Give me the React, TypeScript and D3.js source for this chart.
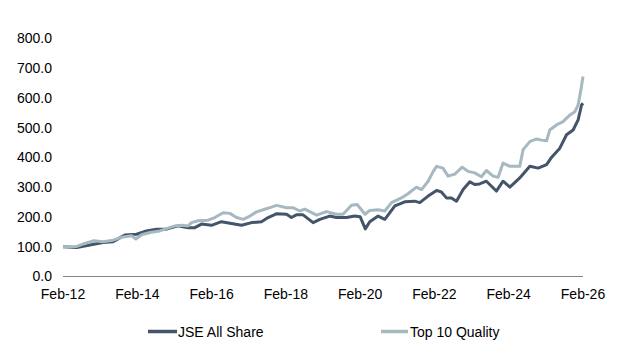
import React from "react";
import * as d3 from "d3";

const jseDates = [
  "2012-02-01","2012-06-15","2012-10-22","2013-03-01","2013-06-08","2013-10-01","2014-01-25","2014-05-01","2014-08-08","2014-11-15",
  "2015-03-08","2015-06-15","2015-08-20","2015-10-25","2016-02-01","2016-05-08","2016-08-15","2016-11-22","2017-03-01","2017-06-06",
  "2017-08-10","2017-09-28","2017-11-01","2018-02-08","2018-03-27","2018-05-15","2018-07-20","2018-10-27","2019-01-01","2019-04-08",
  "2019-06-13","2019-09-20","2019-12-10","2020-02-01","2020-03-23","2020-05-06","2020-07-27","2020-10-01","2021-01-08","2021-04-15",
  "2021-07-22","2021-09-10","2021-12-01","2022-02-22","2022-04-10","2022-05-30","2022-07-18","2022-09-06","2022-11-10","2023-01-15",
  "2023-03-04","2023-04-21","2023-06-27","2023-10-03","2023-12-08","2024-02-13","2024-05-20","2024-08-27","2024-11-17","2025-02-08",
  "2025-03-28","2025-06-18","2025-08-23","2025-10-27","2025-12-15","2026-01-18","2026-02-01"
];
const jseValues = [
  100, 97, 106, 114, 117, 139, 142, 153, 159, 159,
  170, 164, 164, 176, 172, 184, 178, 172, 181, 184,
  198, 205, 211, 209, 198, 207, 207, 181, 192, 203,
  198, 198, 203, 201, 160, 184, 203, 192, 237, 251,
  253, 248, 270, 289, 284, 264, 264, 253, 292, 318,
  309, 311, 320, 287, 320, 300, 331, 370, 364, 376,
  400, 431, 476, 492, 526, 576, 582
];

const qualityDates = [
  "2012-02-01","2012-06-15","2012-08-15","2012-12-01","2013-03-01","2013-06-08","2013-09-15","2013-12-07","2014-01-18","2014-03-15",
  "2014-06-05","2014-09-10","2014-11-15","2015-02-06","2015-04-12","2015-06-15","2015-07-18","2015-09-22","2015-12-29","2016-03-04",
  "2016-05-25","2016-07-30","2016-10-04","2016-12-08","2017-02-13","2017-04-18","2017-07-08","2017-09-13","2017-11-01","2018-02-08",
  "2018-04-12","2018-06-17","2018-08-06","2018-12-01","2019-03-07","2019-06-13","2019-08-17","2019-11-08","2020-01-03","2020-03-20",
  "2020-05-06","2020-07-27","2020-10-01","2020-12-06","2021-03-13","2021-05-17","2021-08-08","2021-09-27","2021-12-01","2022-01-20",
  "2022-02-22","2022-04-26","2022-06-15","2022-08-20","2022-11-01","2022-12-29","2023-03-04","2023-05-09","2023-06-27","2023-09-01",
  "2023-10-20","2023-12-08","2024-02-13","2024-05-20","2024-06-22","2024-08-27","2024-11-01","2024-12-20","2025-02-08","2025-03-11",
  "2025-05-16","2025-07-20","2025-09-24","2025-11-13","2025-12-15","2026-01-08","2026-02-01"
];
const qualityValues = [
  100, 101, 109, 120, 117, 122, 133, 137, 126, 140,
  148, 153, 161, 170, 172, 170, 181, 187, 189, 198,
  214, 212, 198, 192, 203, 217, 226, 233, 239, 231,
  231, 220, 226, 206, 218, 209, 209, 239, 242, 209,
  222, 224, 220, 248, 264, 278, 300, 292, 320, 353,
  370, 364, 337, 344, 367, 353, 348, 335, 356, 337,
  333, 381, 370, 370, 426, 453, 462, 458, 456, 492,
  509, 520, 542, 553, 576, 620, 672
];

const yTicks = [0, 100, 200, 300, 400, 500, 600, 700, 800];
const xTickDates = ["2012-02-01","2014-02-01","2016-02-01","2018-02-01","2020-02-01","2022-02-01","2024-02-01","2026-02-01"];
const seriesNames = ["JSE All Share", "Top 10 Quality"];

const W = 619, H = 349;
const DARK = "#44546A";
const LIGHT = "#A6B9C1";
const FONT = "Liberation Sans, Arial, sans-serif";

export default function App() {
  const parse = d3.timeParse("%Y-%m-%d");
  const x = d3.scaleTime()
    .domain([parse("2012-02-01")!, parse("2026-02-01")!])
    .range([63, 583]);
  const y = d3.scaleLinear().domain([0, 800]).range([276.5, 38.3]);
  const fmt = d3.timeFormat("%b-%y");
  const line = d3.line<[Date, number]>().x(d => x(d[0])).y(d => y(d[1])).curve(d3.curveLinear);

  const jse = jseDates.map((d, i) => [parse(d)!, jseValues[i]] as [Date, number]);
  const qual = qualityDates.map((d, i) => [parse(d)!, qualityValues[i]] as [Date, number]);

  return (
    <svg width={W} height={H} style={{ position: "absolute", left: 0, top: 0, background: "#fff" }}
      fontFamily={FONT}>
      <rect x={0} y={0} width={W} height={H} fill="#fff" />
      {yTicks.map(t => (
        <text key={t} x={52} y={y(t)} dy="0.35em" textAnchor="end" fontSize={14} fill="#000">
          {t.toFixed(1)}
        </text>
      ))}
      <line x1={63} x2={583} y1={276.5} y2={276.5} stroke="#868686" strokeWidth={1} />
      {xTickDates.map(d => (
        <text key={d} x={x(parse(d)!)} y={299} textAnchor="middle" fontSize={14} fill="#000">
          {fmt(parse(d)!)}
        </text>
      ))}
      <path d={line(jse) || ""} fill="none" stroke={DARK} strokeWidth={3} strokeLinejoin="round" />
      <path d={line(qual) || ""} fill="none" stroke={LIGHT} strokeWidth={3} strokeLinejoin="round" />
      <line x1={148} x2={177} y1={331.5} y2={331.5} stroke={DARK} strokeWidth={3.5} />
      <text x={178} y={336.5} fontSize={14} fill="#000">{seriesNames[0]}</text>
      <line x1={381} x2={408} y1={331.5} y2={331.5} stroke={LIGHT} strokeWidth={3.5} />
      <text x={410} y={336.5} fontSize={14} fill="#000">{seriesNames[1]}</text>
    </svg>
  );
}
